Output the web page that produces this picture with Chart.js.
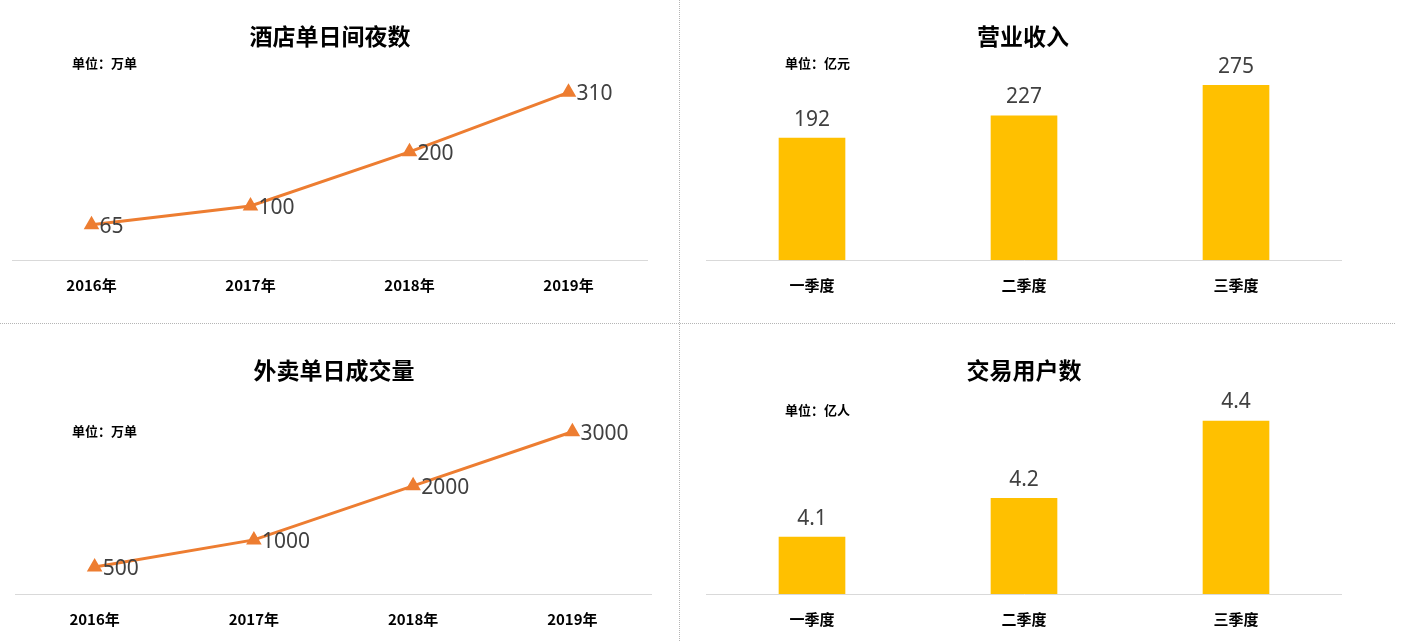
<!DOCTYPE html>
<html><head><meta charset="utf-8">
<script src="https://cdn.jsdelivr.net/npm/chart.js@4"></script>
<style>
html,body{margin:0;padding:0;background:#fff;width:1407px;height:641px;overflow:hidden;position:relative;font-family:"Noto Sans CJK SC","Noto Sans",sans-serif;}
.vline{position:absolute;left:679px;top:0;width:0;height:641px;border-left:1px dotted #b5b5b5;}
.hline{position:absolute;left:0;top:323px;width:1395px;height:0;border-top:1px dotted #b5b5b5;}
.title{position:absolute;font-weight:bold;font-size:23px;color:#000;transform:translate(-50%,-50%);white-space:nowrap;}
.unit{position:absolute;font-weight:bold;font-size:13px;color:#000;white-space:nowrap;transform:translateY(-50%);}
.wrap{position:absolute;}
</style></head>
<body>
<div class="vline"></div><div class="hline"></div>
<div class="wrap" style="left:12px;top:0px;width:636px;height:323px"><canvas id="c1"></canvas></div>
<div class="wrap" style="left:706px;top:0px;width:636px;height:323px"><canvas id="c2"></canvas></div>
<div class="wrap" style="left:15px;top:324px;width:637px;height:320px"><canvas id="c3"></canvas></div>
<div class="wrap" style="left:706px;top:324px;width:636px;height:320px"><canvas id="c4"></canvas></div>

<div class="title" style="left:330px;top:35px">酒店单日间夜数</div>
<div class="unit" style="left:72px;top:62px">单位：万单</div>
<div class="title" style="left:1023px;top:35px">营业收入</div>
<div class="unit" style="left:785px;top:62px">单位：亿元</div>
<div class="title" style="left:334px;top:369px">外卖单日成交量</div>
<div class="unit" style="left:72px;top:430px">单位：万单</div>
<div class="title" style="left:1024px;top:369px">交易用户数</div>
<div class="unit" style="left:785px;top:409px">单位：亿人</div>

<script>
const years = ['2016年','2017年','2018年','2019年'];
const quarters = ['一季度','二季度','三季度'];
const hotelNights = [65, 100, 200, 310];
const revenue = [192, 227, 275];
const takeoutOrders = [500, 1000, 2000, 3000];
const tradeUsers = [4.1, 4.2, 4.4];

const ORANGE = '#ED7D31';
const GOLD = '#FFC000';
const LABEL_FONT = '21px "Noto Sans", "Noto Sans CJK SC", sans-serif';

const labelPlugin = {
  id: 'vlabels',
  afterDatasetsDraw(chart) {
    const ctx = chart.ctx;
    const ds = chart.data.datasets[0];
    const meta = chart.getDatasetMeta(0);
    ctx.save();
    ctx.font = LABEL_FONT;
    ctx.fillStyle = '#404040';
    meta.data.forEach((el, i) => {
      const v = ds.data[i];
      if (chart.config.type === 'line') {
        ctx.textAlign = 'left';
        ctx.textBaseline = 'middle';
        ctx.fillText(String(v), el.x + 8, el.y + 2);
      } else {
        ctx.textAlign = 'center';
        ctx.textBaseline = 'bottom';
        ctx.fillText(String(v), el.x, el.y - 8);
      }
    });
    ctx.restore();
  }
};

function xScale() {
  return {
    offset: true,
    grid: { display: false, drawTicks: false },
    border: { display: true, color: '#d9d9d9', width: 1 },
    ticks: { color: '#000', padding: 16, font: { size: 15, weight: 'bold', family: '"Noto Sans CJK SC", "Noto Sans", sans-serif' } }
  };
}

function makeLine(id, data, max, padTop, padBottom) {
  new Chart(document.getElementById(id), {
    type: 'line',
    data: { labels: years, datasets: [{ data: data, borderColor: ORANGE, backgroundColor: ORANGE, borderWidth: 3, pointStyle: 'triangle', pointRadius: 6, pointBackgroundColor: ORANGE, pointBorderColor: ORANGE, tension: 0, clip: false }] },
    options: {
      responsive: true, maintainAspectRatio: false, animation: false,
      layout: { autoPadding: false, padding: { top: padTop, bottom: padBottom, left: 0, right: 0 } },
      plugins: { legend: { display: false }, tooltip: { enabled: false } },
      scales: { x: xScale(), y: { display: false, min: 0, max: max } }
    },
    plugins: [labelPlugin]
  });
}

function makeBar(id, data, min, max, padTop, padBottom) {
  new Chart(document.getElementById(id), {
    type: 'bar',
    data: { labels: quarters, datasets: [{ data: data, backgroundColor: GOLD, barThickness: 66 }] },
    options: {
      responsive: true, maintainAspectRatio: false, animation: false,
      layout: { autoPadding: false, padding: { top: padTop, bottom: padBottom, left: 0, right: 0 } },
      plugins: { legend: { display: false }, tooltip: { enabled: false } },
      scales: { x: xScale(), y: { display: false, min: min, max: max } }
    },
    plugins: [labelPlugin]
  });
}

makeLine('c1', hotelNights, 355, 68, 13);
makeBar('c2', revenue, 0, 300, 69.5, 13);
makeLine('c3', takeoutOrders, 3520, 79.6, 0);
makeBar('c4', tradeUsers, 3.953, 4.5, 58.25, 0);
</script>
</body></html>
